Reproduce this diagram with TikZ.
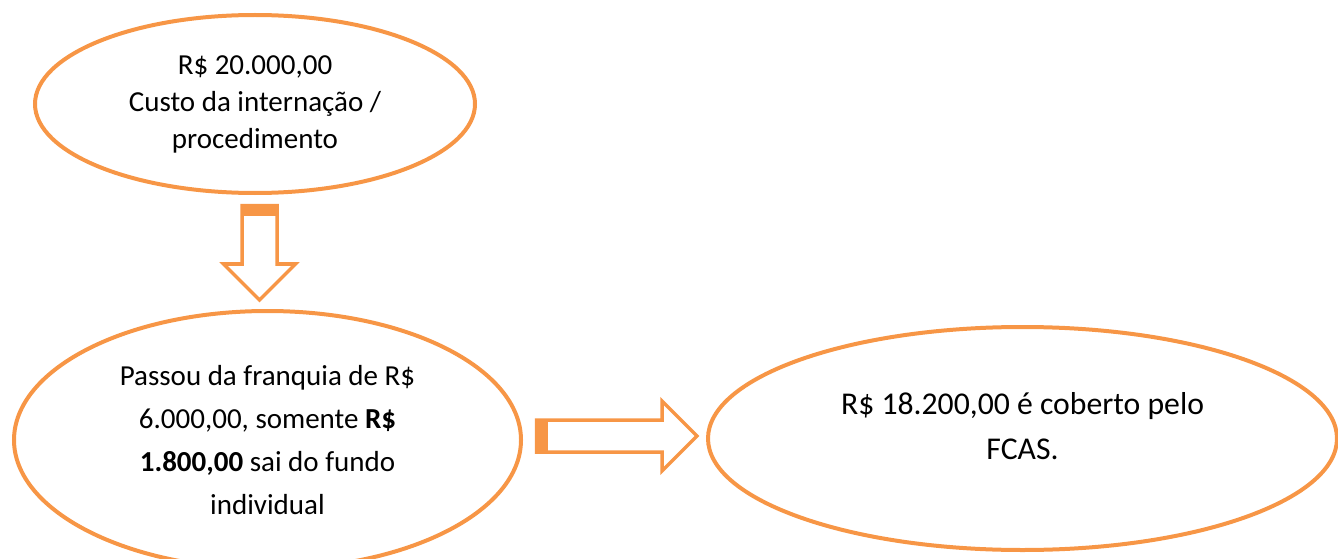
\documentclass[tikz,border=0pt]{standalone}
\usepackage{fontspec}
\setmainfont{Carlito}
\usetikzlibrary{shapes.geometric,shapes.arrows,positioning}
\definecolor{accent}{HTML}{F79646}
\tikzset{
  oval/.style={ellipse, draw=accent, line width=4pt, inner sep=0pt, align=center},
  hollowarrow/.style={single arrow, draw=accent, line width=3.5pt, fill=white, inner xsep=0pt, anchor=tail},
  tailbar/.style={fill=accent, inner sep=0pt}
}

\begin{document}
\begin{tikzpicture}[x=1pt,y=-1pt]
\useasboundingbox (0,0) rectangle (1338,559);
\clip (0,0) rectangle (1338,559);
\node [oval, minimum width=440pt, minimum height=178pt, font=\fontsize{29}{37}\selectfont] (custo) at (255,104)
  {R\$ 20.000,00\\Custo da internação /\\procedimento};
\node [oval, minimum width=507pt, minimum height=258pt, font=\fontsize{29}{43}\selectfont] (franquia) at (267.5,440)
  {Passou da franquia de R\$\\6.000,00, somente \textbf{R\$}\\\textbf{1.800,00} sai do fundo\\individual};
\node [oval, minimum width=629pt, minimum height=223pt, text depth=26pt, font=\fontsize{31.7}{45}\selectfont] (fcas) at (1022.5,438.5)
  {R\$ 18.200,00 é coberto pelo\\FCAS.};
% block arrows
\node [hollowarrow, rotate=-90, inner ysep=15.75pt, minimum height=94.5pt, single arrow head extend=18.5pt] (downArr) at (259.5,203.75) {};
\node [tailbar, minimum width=35pt, minimum height=12.5pt, anchor=north] (downBar) at (downArr.tail) {};
\node [hollowarrow, inner ysep=14.25pt, minimum height=160.5pt, single arrow head extend=19pt] (rightArr) at (534.75,436) {};
\node [tailbar, minimum width=13.25pt, minimum height=32pt, anchor=west] (rightBar) at (rightArr.tail) {};
\end{tikzpicture}
\end{document}
